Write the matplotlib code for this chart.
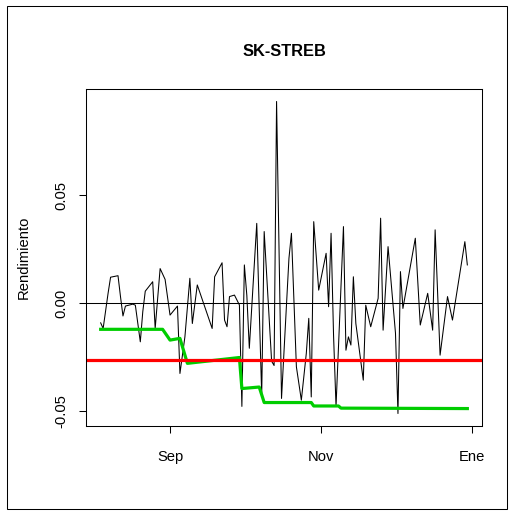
import matplotlib
matplotlib.use("Agg")
import matplotlib.pyplot as plt
import matplotlib.dates as mdates
from matplotlib.patches import Rectangle
import pandas as pd

plt.rcParams['font.family'] = ['Liberation Sans', 'DejaVu Sans']

title = "SK-STREB"
ylabel = "Rendimiento"

fechas = ["2014-08-04", "2014-08-05", "2014-08-07", "2014-08-08", "2014-08-11", "2014-08-12",
          "2014-08-13", "2014-08-14", "2014-08-17", "2014-08-18", "2014-08-19", "2014-08-20",
          "2014-08-21", "2014-08-22", "2014-08-25", "2014-08-26", "2014-08-28", "2014-08-30",
          "2014-09-01", "2014-09-04", "2014-09-05", "2014-09-07", "2014-09-09", "2014-09-10",
          "2014-09-12", "2014-09-18", "2014-09-19", "2014-09-22", "2014-09-23", "2014-09-24",
          "2014-09-25", "2014-09-27", "2014-09-29", "2014-09-30", "2014-10-01", "2014-10-02",
          "2014-10-03", "2014-10-06", "2014-10-08", "2014-10-09", "2014-10-12", "2014-10-13",
          "2014-10-14", "2014-10-16", "2014-10-19", "2014-10-20", "2014-10-22", "2014-10-24",
          "2014-10-26", "2014-10-27", "2014-10-28", "2014-10-29", "2014-10-31", "2014-11-03",
          "2014-11-04", "2014-11-05", "2014-11-06", "2014-11-07", "2014-11-10", "2014-11-11",
          "2014-11-12", "2014-11-13", "2014-11-14", "2014-11-15", "2014-11-18", "2014-11-19",
          "2014-11-21", "2014-11-24", "2014-11-25", "2014-11-26", "2014-11-28", "2014-12-01",
          "2014-12-02", "2014-12-03", "2014-12-04", "2014-12-09", "2014-12-11", "2014-12-14",
          "2014-12-16", "2014-12-17", "2014-12-19", "2014-12-22", "2014-12-24", "2014-12-29",
          "2014-12-30"]

rendimiento = [-0.0092, -0.0118, 0.0046, 0.0120, 0.0127, 0.0030,
               -0.0060, -0.0014, -0.0005, -0.0010, -0.0095, -0.0180,
               -0.0040, 0.0055, 0.0099, -0.0118, 0.0160, 0.0110,
               -0.0056, -0.0014, -0.0327, -0.0157, 0.0115, -0.0095,
               0.0084, -0.0118, 0.0122, 0.0187, -0.0079, -0.0110,
               0.0030, 0.0037, -0.0009, -0.0480, 0.0177, 0.0035,
               -0.0210, 0.0370, -0.0428, 0.0332, -0.0270, -0.0290,
               0.0936, -0.0443, 0.0208, 0.0324, -0.0296, -0.0451,
               -0.0234, -0.0071, -0.0436, 0.0378, 0.0060, 0.0231,
               -0.0017, 0.0324, -0.0150, -0.0480, 0.0355, -0.0219,
               -0.0157, -0.0195, 0.0122, -0.0095, -0.0358, -0.0010,
               -0.0110, 0.0022, 0.0394, -0.0126, 0.0262, -0.0140,
               -0.0513, 0.0146, -0.0025, 0.0301, -0.0102, 0.0045,
               -0.0126, 0.0340, -0.0242, 0.0030, -0.0079, 0.0285,
               0.0177]

fechas_var = ["2014-08-04", "2014-08-29", "2014-09-01", "2014-09-05", "2014-09-08",
              "2014-09-29", "2014-09-30", "2014-10-07", "2014-10-09", "2014-10-28",
              "2014-10-29", "2014-11-08", "2014-11-09", "2014-12-30"]
var_hist = [-0.0122, -0.0122, -0.0172, -0.0164, -0.0280,
            -0.0253, -0.0397, -0.0390, -0.0462, -0.0462,
            -0.0478, -0.0478, -0.0488, -0.0490]

var_normal = -0.0264

yticks = [-0.05, 0.0, 0.05]
ytick_labels = ["-0.05", "0.00", "0.05"]
xticks = ["2014-09-01", "2014-11-01", "2015-01-01"]
xtick_labels = ["Sep", "Nov", "Ene"]

W, H = 514, 515
fig = plt.figure(figsize=(W / 100, H / 100), dpi=100)
ax = fig.add_axes([86 / W, 1 - 426 / H, (482 - 86) / W, (426 - 89) / H])

x = pd.to_datetime(fechas)
ax.plot(x, rendimiento, color="black", lw=0.75)
ax.plot(pd.to_datetime(fechas_var), var_hist, color="#00CD00", lw=2.3, solid_joinstyle="round")
ax.axhline(0, color="black", lw=0.75)
ax.axhline(var_normal, color="#FF0000", lw=2.3)

ax.margins(x=0.04, y=0.04)

ax.set_yticks(yticks)
ax.set_yticklabels(ytick_labels, rotation=90, va="center")
ax.set_xticks(mdates.date2num(pd.to_datetime(xticks)))
ax.set_xticklabels(xtick_labels)
ax.tick_params(direction="out", length=5, width=0.75, labelsize=10.6, colors="black")
ax.tick_params(axis="x", pad=12)
ax.tick_params(axis="y", pad=8)
for s in ax.spines.values():
    s.set_linewidth(0.75)

ax.set_title(title, fontsize=11.8, fontweight="bold", pad=24)
ax.set_ylabel(ylabel, fontsize=10.6, labelpad=17)

fig.patches.append(Rectangle((7 / W, 1 - 509 / H), 500 / W, 503 / H, transform=fig.transFigure,
                             fill=False, edgecolor="black", lw=0.75))

fig.savefig("out.png", dpi=100)
